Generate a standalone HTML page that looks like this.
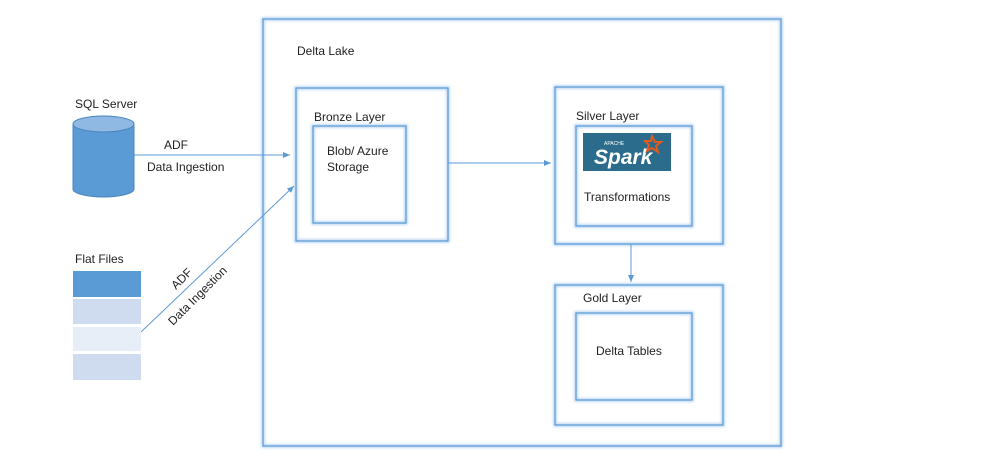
<!DOCTYPE html>
<html><head><style>
body{margin:0;width:991px;height:471px;background:#fff;overflow:hidden;font-family:"Liberation Sans",sans-serif;}
</style></head><body>
<svg width="991" height="471" xmlns="http://www.w3.org/2000/svg" font-family="Liberation Sans, sans-serif" font-size="12" fill="#222">
<defs>
<marker id="a" markerWidth="8" markerHeight="8" refX="7" refY="4" orient="auto" markerUnits="userSpaceOnUse"><path d="M0,1 L7,4 L0,7z" fill="#5b9bd5"/></marker>
<filter id="g" x="-5%" y="-5%" width="110%" height="110%"><feGaussianBlur stdDeviation="1.2"/></filter>
</defs>
<g fill="none" stroke="#b5d3f3" stroke-width="3.5" filter="url(#g)">
<rect x="263" y="19" width="518" height="427"/>
<rect x="296" y="88" width="152" height="153"/>
<rect x="313" y="126" width="93" height="97"/>
<rect x="555" y="87" width="168" height="157"/>
<rect x="576" y="126" width="116" height="100"/>
<rect x="555" y="285" width="168" height="140"/>
<rect x="576" y="313" width="116" height="87"/>
</g>
<g fill="none" stroke="#5b9bd5" stroke-width="1.2">
<rect x="263" y="19" width="518" height="427"/>
<rect x="296" y="88" width="152" height="153"/>
<rect x="313" y="126" width="93" height="97"/>
<rect x="555" y="87" width="168" height="157"/>
<rect x="576" y="126" width="116" height="100"/>
<rect x="555" y="285" width="168" height="140"/>
<rect x="576" y="313" width="116" height="87"/>
</g>
<g stroke="#5b9bd5" stroke-width="1" fill="none" marker-end="url(#a)">
<line x1="134" y1="155" x2="290" y2="155"/>
<line x1="141" y1="332" x2="294" y2="186"/>
<line x1="448" y1="163" x2="551" y2="163"/>
<line x1="631" y1="244" x2="631" y2="282"/>
</g>
<path d="M73,124 L73,189 A30.5,8 0 0 0 134,189 L134,124z" fill="#5b9bd5" stroke="#4a86bd"/>
<ellipse cx="103.5" cy="124" rx="30.5" ry="8" fill="#8fb8e3" stroke="#4a86bd"/>
<rect x="73" y="271" width="68" height="26" fill="#5b9bd5"/>
<rect x="73" y="299" width="68" height="25" fill="#cfdcef"/>
<rect x="73" y="327" width="68" height="24" fill="#e8eef8"/>
<rect x="73" y="354" width="68" height="26" fill="#cfdcef"/>
<rect x="583" y="133" width="88" height="38" fill="#2b6c8c"/>
<text x="594" y="164" font-size="21" font-weight="bold" font-style="italic" fill="#fff">Spark</text>
<text x="604" y="145" font-size="5" fill="#fff">APACHE</text>
<path d="M652,136 l3,6 6,0 -5,4 2,6 -6,-4 -5,3 2,-6 -4,-4 6,0z" fill="none" stroke="#e25a1c" stroke-width="2"/>
<text x="297" y="55">Delta Lake</text>
<text x="75" y="108">SQL Server</text>
<text x="164" y="149">ADF</text>
<text x="147" y="171">Data Ingestion</text>
<text x="75" y="263">Flat Files</text>
<text x="314" y="121">Bronze Layer</text>
<text x="327" y="155">Blob/  Azure</text>
<text x="327" y="171">Storage</text>
<text x="576" y="120">Silver Layer</text>
<text x="584" y="201">Transformations</text>
<text x="583" y="302">Gold Layer</text>
<text x="596" y="355">Delta Tables</text>
<text transform="translate(176,290) rotate(-45)">ADF</text>
<text transform="translate(173,326) rotate(-45)">Data Ingestion</text>
</svg>
</body></html>
